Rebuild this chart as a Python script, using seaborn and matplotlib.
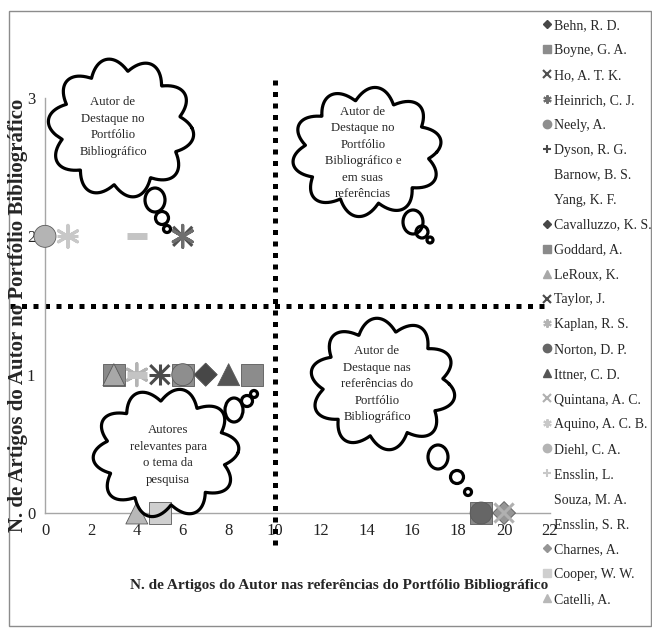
import numpy as np
import pandas as pd
import seaborn as sns
import matplotlib
matplotlib.use('Agg')
import matplotlib.pyplot as plt
from matplotlib.lines import Line2D
from matplotlib.patches import Ellipse, Rectangle

# dados
autores = ['Behn, R. D.', 'Boyne, G. A.', 'Ho, A. T. K.', 'Heinrich, C. J.', 'Neely, A.',
           'Dyson, R. G.', 'Barnow, B. S.', 'Yang, K. F.', 'Cavalluzzo, K. S.', 'Goddard, A.',
           'LeRoux, K.', 'Taylor, J.', 'Kaplan, R. S.', 'Norton, D. P.', 'Ittner, C. D.',
           'Quintana, A. C.', 'Aquino, A. C. B.', 'Diehl, C. A.', 'Ensslin, L.', 'Souza, M. A.',
           'Ensslin, S. R.', 'Charnes, A.', 'Cooper, W. W.', 'Catelli, A.']
refs = [7, 9, 6, 6, 6, 5, 4, 19, 7, 3, 3, 5, 4, 19, 8, 20, 1, 0, 1, 6, 4, 20, 5, 4]
portfolio = [1, 1, 2, 2, 1, 1, 1, 0, 1, 1, 1, 1, 1, 0, 1, 0, 2, 2, 2, 1, 2, 0, 0, 0]
xticks = [0, 2, 4, 6, 8, 10, 12, 14, 16, 18, 20, 22]
yticks = [0, 1, 2, 3]
corte_x = 10
corte_y = 1.5

ast = (6, 2, 0)
marcador = ['D', 's', 'x', ast, 'o', '+', '_', 's', 'D', 's', '^', 'x', ast, 'o', '^',
            'x', ast, 'o', '+', 's', '_', 'D', 's', '^']
cor = ['#474747', '#8c8c8c', '#505050', '#6e6e6e', '#8e8e8e', '#4a4a4a', '#c4c4c4', '#8a8a8a',
       '#474747', '#8a8a8a', '#a8a8a8', '#4a4a4a', '#b4b4b4', '#666666', '#555555',
       '#b0b0b0', '#c8c8c8', '#b4b4b4', '#c8c8c8', '#8e8e8e', '#c4c4c4', '#959595', '#cfcfcf', '#b8b8b8']
sem_legenda = ['Barnow, B. S.', 'Yang, K. F.', 'Souza, M. A.', 'Ensslin, S. R.']

df = pd.DataFrame({'autor': autores, 'refs': refs, 'portfolio': portfolio, 'marcador': marcador})
paleta = dict(zip(autores, cor))
mk = dict(zip(autores, marcador))
ordem_forma = {'s': 0, 'D': 1, 'o': 2, '^': 3}
tam = {'s': 250, 'D': 135, 'o': 250, '^': 250, 'x': 190, '+': 230, '_': 200, ast: 250}

sns.set_style('white')
plt.rcParams['font.family'] = ['Liberation Serif', 'DejaVu Serif']

fig = plt.figure(figsize=(6.52, 6.34), dpi=100)
ax = fig.add_axes([45 / 652, 1 - 513 / 634, (550 - 45) / 652, (513 - 98) / 634])

cheios = df[df['marcador'].isin(['s', 'D', 'o', '^'])].copy()
cheios['ordem'] = cheios['marcador'].map(ordem_forma)
cheios = cheios.sort_values('ordem', kind='stable')
linhas = df[df['marcador'].isin(['x', '+']) | df['marcador'].apply(lambda m: m == ast)]
tracos = df[df['marcador'] == '_']

sns.scatterplot(data=cheios, x='refs', y='portfolio', hue='autor', style='autor', size='autor',
                palette=paleta, markers={a: mk[a] for a in cheios['autor']},
                sizes={a: tam[mk[a]] for a in cheios['autor']},
                edgecolor='#5a5a5a', linewidth=0.6, legend=False, ax=ax, clip_on=False, zorder=3)
sns.scatterplot(data=linhas, x='refs', y='portfolio', hue='autor', style='autor', size='autor',
                palette=paleta, markers={a: mk[a] for a in linhas['autor']},
                sizes={a: tam[mk[a]] for a in linhas['autor']},
                linewidth=2.2, legend=False, ax=ax, clip_on=False, zorder=4)
sns.scatterplot(data=tracos, x='refs', y='portfolio', hue='autor', style='autor',
                palette=paleta, markers={a: '_' for a in tracos['autor']},
                s=200, linewidth=5, legend=False, ax=ax, clip_on=False, zorder=4)

# linhas de corte pontilhadas
ax.plot([corte_x, corte_x], [-0.23, 3.13], ls=(0, (1, 1.3)), lw=3.6, color='black',
        clip_on=False, dash_capstyle='butt', zorder=2)
ax.plot([-1.52, 22], [corte_y, corte_y], ls=(0, (1, 1.3)), lw=3.6, color='black',
        clip_on=False, dash_capstyle='butt', zorder=2)

ax.set_xlim(0, 22)
ax.set_ylim(0, 3)
ax.set_xticks(xticks)
ax.set_yticks(yticks)
ax.set_xlabel('')
ax.set_ylabel('')
for s in ['top', 'right']:
    ax.spines[s].set_visible(False)
for s in ['left', 'bottom']:
    ax.spines[s].set_color('#a6a6a6')
    ax.spines[s].set_linewidth(1)
ax.tick_params(axis='both', labelsize=12, colors='#222222', direction='out', length=4,
               width=1, color='#a6a6a6', pad=3)
ax.patch.set_alpha(0)

fig.text(339 / 652, 1 - 586 / 634, 'N. de Artigos do Autor nas referências do Portfólio Bibliográfico',
         ha='center', va='center', fontsize=11, fontweight='bold')
fig.text(18 / 652, 1 - 315 / 634, 'N. de Artigos do Autor no Portfólio Bibliográfico',
         ha='center', va='center', rotation=90, fontsize=15, fontweight='bold')

# legenda
handles = []
for a, m, c in zip(autores, marcador, cor):
    if a in sem_legenda:
        handles.append(Line2D([], [], linestyle='none', marker=None))
    elif m in ['x', '+'] or m == ast:
        handles.append(Line2D([], [], linestyle='none', marker=m, markersize=6,
                              markeredgecolor=c, markeredgewidth=1.5))
    else:
        handles.append(Line2D([], [], linestyle='none', marker=m, markersize=6 if m != 'D' else 4.5,
                              markerfacecolor=c, markeredgecolor=c))
fig.legend(handles, autores, loc='upper left', bbox_to_anchor=(543 / 652, 1 - 19 / 634),
           frameon=False, fontsize=10, handlelength=0.6, handletextpad=0.2,
           labelspacing=0.86, borderpad=0, borderaxespad=0)

# camada de anotacoes em pixels
ov = fig.add_axes([0, 0, 1, 1])
ov.set_xlim(0, 652)
ov.set_ylim(634, 0)
ov.axis('off')
ov.add_patch(Rectangle((9, 11), 642, 615, fill=False, edgecolor='#8c8c8c', lw=1))


def nuvem(cx, cy, rx, ry, n, amp, fase, bolhas, texto, tx, ty):
    t = np.linspace(0, 2 * np.pi, 800)
    r = np.abs(np.sin(n * (t + fase) / 2))
    xs = cx + (rx + amp * r) * np.cos(t)
    ys = cy + (ry + amp * r) * np.sin(t)
    ov.plot(xs, ys, color='black', lw=2.3, solid_joinstyle='round')
    for bx, by, bw, bh in bolhas:
        ov.add_patch(Ellipse((bx, by), bw, bh, fill=False, edgecolor='black', lw=2.3))
    ov.text(tx, ty, texto, ha='center', va='center', fontsize=9.2, linespacing=1.5)


nuvem(121, 128, 60, 57, 10, 13, 0.2,
      [(155, 200, 20, 24), (162, 218, 13, 13), (167, 229, 7, 7)],
      'Autor de\nDestaque no\nPortfólio\nBibliográfico', 113, 127)
nuvem(367, 152, 62, 52, 10, 13, 0.5,
      [(413, 222, 20, 24), (422, 232, 12, 12), (430, 240, 6, 6)],
      'Autor de\nDestaque no\nPortfólio\nBibliográfico e\nem suas\nreferências', 363, 153)
nuvem(383, 384, 60, 53, 10, 13, 0.1,
      [(438, 457, 20, 24), (457, 477, 13, 13), (468, 492, 7, 7)],
      'Autor de\nDestaque nas\nreferências do\nPortfólio\nBibliográfico', 377, 384)
nuvem(166, 453, 60, 52, 10, 13, 0.4,
      [(234, 410, 18, 24), (247, 401, 11, 11), (254, 394, 7, 7)],
      'Autores\nrelevantes para\no tema da\npesquisa', 168, 455)

fig.savefig('out.png', dpi=100)
